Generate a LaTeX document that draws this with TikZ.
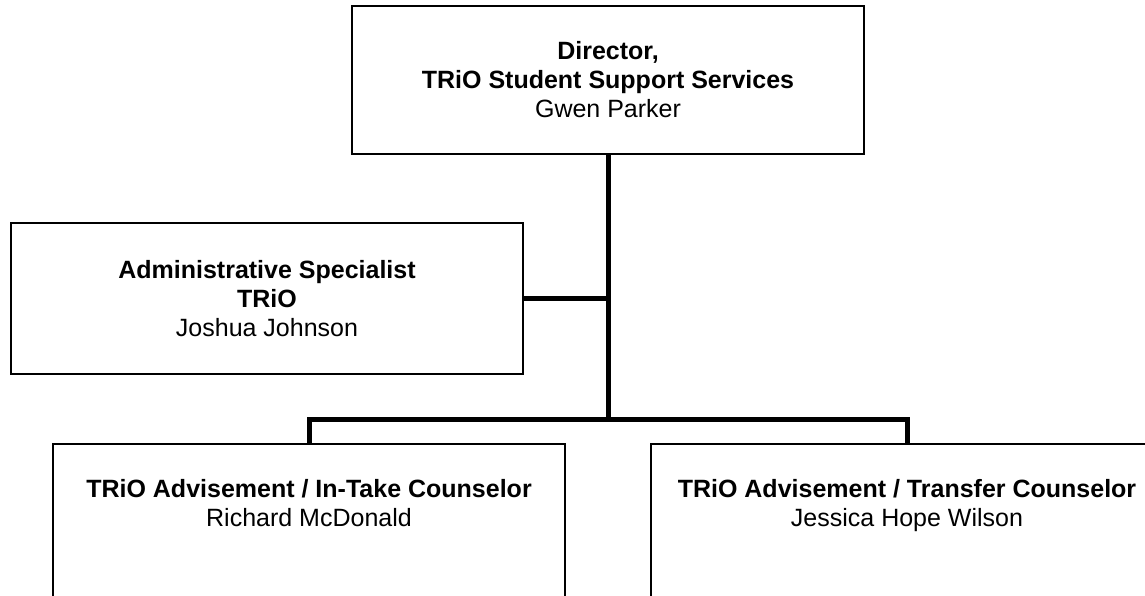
\documentclass[tikz,border=0pt]{standalone}
\usepackage{fontspec}
\setmainfont{Liberation Sans}
\usetikzlibrary{positioning}

\begin{document}
\begin{tikzpicture}[x=0.5pt, y=-0.5pt,
    every node/.style = {font=\fontsize{12.5}{14.5}\selectfont, align=center},
    post/.style = {shape=rectangle, draw=black, line width=0.75pt,
      minimum width=256pt, inner sep=0pt},
    link/.style = {line width=2.5pt}]
  \useasboundingbox (0,0) rectangle (1145,595);
  \clip (0,0) rectangle (1145,595);
  % boxes
  \node[post, minimum height=74pt] (dir) at (608,80)
    {\textbf{Director,}\\ \textbf{TRiO Student Support Services}\\ Gwen Parker};
  \node[post, minimum height=75.5pt] (admin) at (267,298.5)
    {\textbf{Administrative Specialist}\\ \textbf{TRiO}\\ Joshua Johnson};
  \node[post, minimum height=100pt, anchor=north] (intake) at (309,443) {};
  \node[post, minimum height=100pt, anchor=north] (transfer) at (907,443) {};
  \node[anchor=north, inner sep=0pt] (intaketxt) at (309,479)
    {\textbf{TRiO Advisement / In-Take Counselor}\\ Richard McDonald};
  \node[anchor=north, inner sep=0pt] (transfertxt) at (907,479)
    {\textbf{TRiO Advisement / Transfer Counselor}\\ Jessica Hope Wilson};
  % lines
  \coordinate (hub) at (608,419);
  \draw[link] (dir.south) -- (hub);
  \draw[link] (admin.east) -- (admin.east -| dir.south);
  \draw[link] (intake.north) |- (hub) -| (transfer.north);
\end{tikzpicture}
\end{document}
